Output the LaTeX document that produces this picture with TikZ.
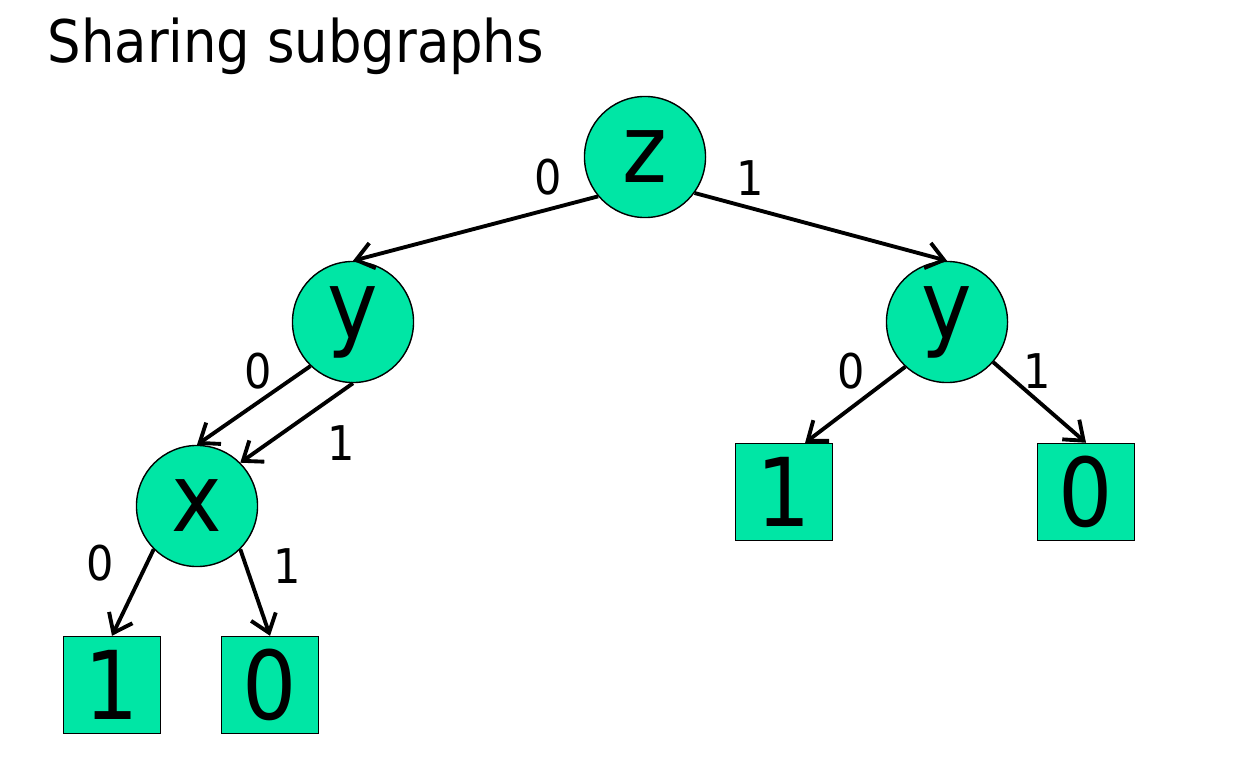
\documentclass[tikz,border=0pt]{standalone}
\usepackage{fontspec}
\setmainfont{DejaVu Sans Condensed}
\usetikzlibrary{arrows.meta}
\definecolor{bddgreen}{RGB}{0,230,165}
\tikzset{
  var/.style={circle,draw=black,line width=0.4pt,fill=bddgreen,minimum size=1.21cm,inner sep=0pt,font=\fontsize{27}{27}\selectfont},
  leaf/.style={rectangle,draw=black,line width=0.4pt,fill=bddgreen,minimum size=0.97cm,inner sep=0pt,font=\fontsize{27}{27}\selectfont},
  edge/.style={line width=1.1pt,-{Straight Barb[length=1.7mm,width=2.6mm,line width=1.1pt]}},
  lbl/.style={inner sep=0pt,font=\fontsize{13.6}{14}\selectfont}
}
\begin{document}
\begin{tikzpicture}[x=0.01cm,y=-0.01cm]
 \useasboundingbox (0,0) rectangle (1240,776);
 \node[anchor=base west,inner sep=0pt,font=\fontsize{16.7}{18}\selectfont] (title) at (47,63) {Sharing subgraphs};
 % decision nodes
 \node[var,minimum height=1.14cm] (z) at (645,157) {z};
 \node[var] (yl) at (353,322) {y};
 \node[var] (yr) at (947,322) {y};
 \node[var] (x) at (197,506) {x};
 % terminals
 \node[leaf] (xone) at (112,685) {1};
 \node[leaf] (xzero) at (270,685) {0};
 \node[leaf] (yone) at (784,492) {1};
 \node[leaf] (yzero) at (1086,492) {0};
 % edges
 \draw[edge] (z.220) -- (yl.north);
 \draw[edge] (z.324) -- (yr.north);
 \draw[edge] (yl.226) -- (x.north);
 \draw[edge] (yl.south) -- (x.45);
 \draw[edge] (x.225) -- (xone.north);
 \draw[edge] (x.315) -- (xzero.north);
 \draw[edge] (yr.227) -- ([xshift=6]yone.north);
 \draw[edge] (yr.319) -- (yzero.north);
 % edge labels
 \node[lbl] (lz0) at (548,177) {0};
 \node[lbl] (lz1) at (750,178) {1};
 \node[lbl] (lyl0) at (258,371) {0};
 \node[lbl] (lyl1) at (341,443) {1};
 \node[lbl] (lx0) at (100,563) {0};
 \node[lbl] (lx1) at (287,566) {1};
 \node[lbl] (lyr0) at (851,371) {0};
 \node[lbl] (lyr1) at (1037,371) {1};
\end{tikzpicture}
\end{document}
